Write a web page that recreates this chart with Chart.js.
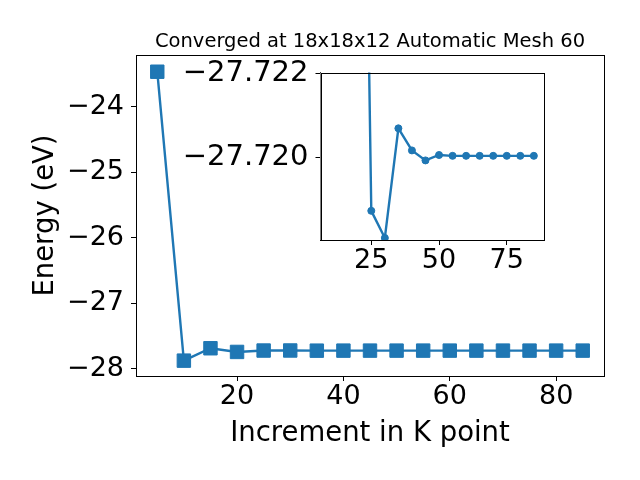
<!DOCTYPE html>
<html>
<head>
<meta charset="utf-8">
<script src="https://cdn.jsdelivr.net/npm/chart.js@4/dist/chart.umd.min.js"></script>
<style>
    body { margin: 0; background: #fff; }
    #wrap { position: relative; width: 640px; height: 480px; }
    #wrap canvas { position: absolute; left: 0; top: 0; }
</style>
</head>
<body>
<div id="wrap">
    <canvas id="chartMain" width="640" height="480"></canvas>
    <canvas id="chartInset" width="640" height="480"></canvas>
</div>
<script>
// k point increments and total energies (eV)
const kPoints = [5, 10, 15, 20, 25, 30, 35, 40, 45, 50, 55, 60, 65, 70, 75, 80, 85];
const energy = [-23.467, -27.873, -27.684, -27.740, -27.71871, -27.71806, -27.72069, -27.72016,
    -27.71992, -27.72005, -27.72003, -27.72003, -27.72003, -27.72003, -27.72003, -27.72003, -27.72003];

// the inset only plots from the 4th point on
const insetFrom = 3;

const mainXTicks = [20, 40, 60, 80];
const mainYTicks = [-28, -27, -26, -25, -24];
const insetXTicks = [25, 50, 75];
const insetYTicks = [-27.722, -27.720];

const titleText = "Converged at 18x18x12 Automatic Mesh 60";
const xLabel = "Increment in K point";
const yLabel = "Energy (eV)";

const blue = "#1f77b4";
const family = "DejaVu Sans";

Chart.defaults.font.family = family;
Chart.defaults.color = "#000";

function fmt(v, digits) {
    return v.toFixed(digits).replace("-", "\u2212");
}

const points = kPoints.map((k, i) => ({ x: k, y: energy[i] }));

// matplotlib style box round the axes
const framePlugin = {
    id: "frame",
    beforeDatasetsDraw(chart, args, opts) {
        if (!opts.fill) return;
        const a = chart.chartArea;
        chart.ctx.save();
        chart.ctx.fillStyle = "#fff";
        chart.ctx.fillRect(a.left, a.top, a.right - a.left, a.bottom - a.top);
        chart.ctx.restore();
    },
    afterDraw(chart) {
        const a = chart.chartArea;
        const ctx = chart.ctx;
        ctx.save();
        ctx.strokeStyle = "#000";
        ctx.lineWidth = 1;
        ctx.strokeRect(Math.round(a.left) + 0.5, Math.round(a.top) + 0.5,
            Math.round(a.right) - Math.round(a.left), Math.round(a.bottom) - Math.round(a.top));
        ctx.restore();
    }
};

function axisTicks(digits, size, pad) {
    return {
        autoSkip: false,
        maxRotation: 0,
        padding: pad,
        font: { size: size },
        callback: v => fmt(v, digits)
    };
}

const gridOpts = { display: true, drawOnChartArea: false, drawTicks: true, tickLength: 5, color: "#000" };

new Chart(document.getElementById("chartMain"), {
    type: "line",
    data: {
        datasets: [{
            data: points,
            borderColor: blue,
            backgroundColor: blue,
            borderWidth: 2.4,
            pointStyle: "rect",
            pointRadius: 9.5,
            pointBorderWidth: 1,
            pointBackgroundColor: blue,
            pointBorderColor: blue
        }]
    },
    plugins: [framePlugin],
    options: {
        responsive: false,
        animation: false,
        events: [],
        layout: { padding: { left: 0, right: 36, top: 0, bottom: 0 } },
        plugins: {
            legend: { display: false },
            tooltip: { enabled: false },
            frame: { fill: false },
            title: {
                display: true,
                text: titleText,
                fullSize: false,
                font: { size: 19.5, weight: "normal" },
                padding: { top: 30.6, bottom: 1 }
            }
        },
        scales: {
            x: {
                type: "linear",
                min: 1,
                max: 89,
                afterBuildTicks: s => { s.ticks = mainXTicks.map(v => ({ value: v })) },
                afterFit: s => { s.height = 104 },
                ticks: axisTicks(0, 27, 0),
                grid: gridOpts,
                border: { color: "#000" },
                title: { display: true, text: xLabel, font: { size: 27.5 }, padding: { top: 0, bottom: 30 } }
            },
            y: {
                type: "linear",
                min: -28.107,
                max: -23.212,
                afterBuildTicks: s => { s.ticks = mainYTicks.map(v => ({ value: v })) },
                afterFit: s => { s.width = 136 },
                ticks: axisTicks(0, 27, 7),
                grid: gridOpts,
                border: { color: "#000" },
                title: { display: true, text: yLabel, font: { size: 27.5 }, padding: { top: 29, bottom: 0 } }
            }
        }
    }
});

// zoomed inset, y axis runs downwards as in the reference
new Chart(document.getElementById("chartInset"), {
    type: "line",
    data: {
        datasets: [{
            data: points.slice(insetFrom),
            borderColor: blue,
            backgroundColor: blue,
            borderWidth: 2.4,
            pointStyle: "circle",
            pointRadius: 3.5,
            pointBorderWidth: 1,
            pointBackgroundColor: blue,
            pointBorderColor: blue
        }]
    },
    plugins: [framePlugin],
    options: {
        responsive: false,
        animation: false,
        events: [],
        layout: { padding: { left: 170, right: 96, top: 72.5, bottom: 180 } },
        plugins: {
            legend: { display: false },
            tooltip: { enabled: false },
            frame: { fill: true }
        },
        scales: {
            x: {
                type: "linear",
                min: 6.25,
                max: 88.75,
                afterBuildTicks: s => { s.ticks = insetXTicks.map(v => ({ value: v })) },
                afterFit: s => { s.height = 60 },
                ticks: axisTicks(0, 27, 0),
                grid: gridOpts,
                border: { color: "#000" }
            },
            y: {
                type: "linear",
                reverse: true,
                min: -27.72203,
                max: -27.71801,
                afterBuildTicks: s => { s.ticks = insetYTicks.map(v => ({ value: v })) },
                afterFit: s => { s.width = 150.5 },
                ticks: axisTicks(3, 29, 7),
                grid: gridOpts,
                border: { color: "#000" }
            }
        }
    }
});
</script>
</body>
</html>
